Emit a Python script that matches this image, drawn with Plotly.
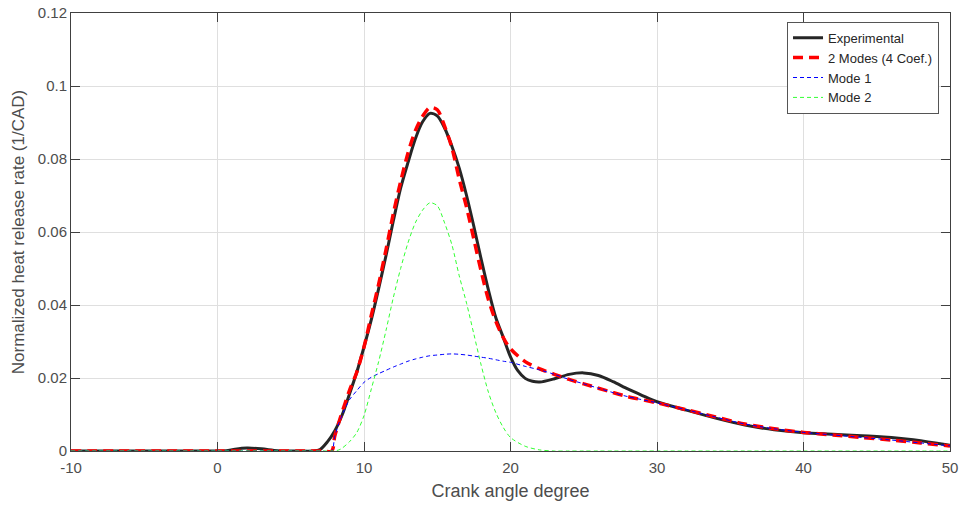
import plotly.graph_objects as go

# ---- data ----
x_exp = [-10, 0, 0.6, 1.2, 2.0, 3.0, 4.1, 5.5, 6.5, 7.0, 7.5, 8.0, 8.5, 9.0, 9.5, 10, 10.5, 11,
         11.5, 12, 12.5, 13, 13.5, 14, 14.5, 15, 15.5, 16, 16.5, 17, 17.5, 18, 18.5, 19,
         19.5, 20, 20.5, 21, 21.5, 22, 23, 24, 25, 26, 27, 28, 29, 30, 32, 34, 36, 38,
         40, 42, 44, 45, 46, 47, 48, 49, 50]
y_exp = [0, 0, 0.0001, 0.0005, 0.0008, 0.0006, 0.0001, 0, 0, 0.0004, 0.0025, 0.0055, 0.0098,
         0.0155, 0.0215, 0.0285, 0.036, 0.0445, 0.0535, 0.063, 0.072, 0.079, 0.0855, 0.0902,
         0.0925, 0.0918, 0.0885, 0.0835, 0.0775, 0.0700, 0.0615, 0.0525, 0.0440, 0.0365,
         0.0312, 0.0258, 0.0220, 0.0199, 0.0191, 0.0189, 0.0198, 0.0210, 0.0214, 0.0207,
         0.0190, 0.0170, 0.0152, 0.0135, 0.0112, 0.0090, 0.0071, 0.0058, 0.0050, 0.0046,
         0.0042, 0.0040, 0.0037, 0.0033, 0.0028, 0.0022, 0.0016]

x_model = [-10, 0, 7.0, 7.8, 8.0, 8.4, 9.0, 9.5, 10, 10.5, 11, 11.5, 12, 12.5, 13, 13.5, 14,
           14.5, 15, 15.5, 16, 16.5, 17, 17.5, 18, 18.5, 19, 19.5, 20, 21, 22, 23, 24, 25,
           26, 27, 28, 30, 32, 34, 36, 38, 40, 42, 44, 46, 48, 50]
y_mode1 = [0, 0, 0, 0, 0.0040, 0.0088, 0.0140, 0.0165, 0.0188, 0.0202, 0.0212, 0.0221, 0.0230,
           0.0238, 0.0246, 0.0252, 0.0257, 0.0261, 0.0263, 0.0265, 0.0266, 0.0265, 0.0263,
           0.0260, 0.0257, 0.0254, 0.0250, 0.0246, 0.0243, 0.0232, 0.0222, 0.0210, 0.0196,
           0.0184, 0.0172, 0.0160, 0.0149, 0.0132, 0.0113, 0.0093, 0.0074, 0.0061, 0.0051,
           0.0044, 0.0037, 0.0030, 0.0022, 0.0014]
y_mode2 = [0, 0, 0, 0, 0, 0.0005, 0.0025, 0.0050, 0.0097, 0.0170, 0.0245, 0.0330, 0.0420,
           0.0500, 0.0570, 0.0625, 0.0660, 0.0680, 0.0672, 0.0625, 0.0565, 0.0480, 0.0405,
           0.0320, 0.0235, 0.0160, 0.0105, 0.0065, 0.0037, 0.0013, 0.0003, 0, 0, 0, 0, 0,
           0, 0, 0, 0, 0, 0, 0, 0, 0, 0, 0, 0]
y_2modes = [0, 0, 0, 0, 0.0040, 0.0093, 0.0165, 0.0215, 0.0285, 0.0372, 0.0457, 0.0551,
            0.0650, 0.0738, 0.0816, 0.0877, 0.0917, 0.0941, 0.0935, 0.0890, 0.0831, 0.0745,
            0.0668, 0.0580, 0.0492, 0.0414, 0.0355, 0.0311, 0.0280, 0.0245, 0.0225, 0.0210,
            0.0196, 0.0184, 0.0172, 0.0160, 0.0149, 0.0132, 0.0113, 0.0093, 0.0074, 0.0061,
            0.0051, 0.0044, 0.0037, 0.0030, 0.0022, 0.0014]

x_ticks = [-10, 0, 10, 20, 30, 40, 50]
x_tick_text = ["-10", "0", "10", "20", "30", "40", "50"]
y_ticks = [0, 0.02, 0.04, 0.06, 0.08, 0.1, 0.12]
y_tick_text = ["0", "0.02", "0.04", "0.06", "0.08", "0.1", "0.12"]

FONT = "Liberation Sans, Arial, Helvetica, sans-serif"
AX = "#404040"
TXT = "#4d4d4d"

fig = go.Figure()
fig.add_trace(go.Scatter(x=x_exp, y=y_exp, mode="lines", name="Experimental",
                         line=dict(color="#262626", width=3, shape="spline", smoothing=0.8)))
fig.add_trace(go.Scatter(x=x_model, y=y_2modes, mode="lines", name="2 Modes (4 Coef.)",
                         line=dict(color="#ff0000", width=3.5, dash="10px,6px",
                                   shape="spline", smoothing=0.8)))
fig.add_trace(go.Scatter(x=x_model, y=y_mode1, mode="lines", name="Mode 1",
                         line=dict(color="#0000ff", width=1, dash="4px,3px",
                                   shape="spline", smoothing=0.8)))
fig.add_trace(go.Scatter(x=x_model, y=y_mode2, mode="lines", name="Mode 2",
                         line=dict(color="#33ff33", width=1, dash="4px,3px",
                                   shape="spline", smoothing=0.8)))

axis_common = dict(showline=True, linecolor=AX, linewidth=1, mirror="ticks",
                   ticks="inside", ticklen=9, tickcolor=AX, tickwidth=1,
                   showgrid=True, gridcolor="#dfdfdf", gridwidth=1, zeroline=False,
                   automargin=False,
                   tickfont=dict(family=FONT, size=15, color=TXT))

fig.update_xaxes(range=[-10, 50], tickvals=x_ticks, ticktext=x_tick_text, ticklabelstandoff=3,
                 title=dict(text="Crank angle degree", font=dict(family=FONT, size=18, color=TXT),
                            standoff=9),
                 **axis_common)
fig.update_yaxes(range=[0, 0.12], tickvals=y_ticks, ticktext=y_tick_text,
                 title=dict(text="Normalized heat release rate (1/CAD)",
                            font=dict(family=FONT, size=17, color=TXT), standoff=8),
                 **axis_common)

fig.update_layout(
    width=960, height=506,
    margin=dict(l=71, r=10, t=13, b=55),
    paper_bgcolor="white", plot_bgcolor="white",
    font=dict(family=FONT, size=13, color="#262626"),
    showlegend=True,
    legend=dict(x=0.9875, y=0.98, xanchor="right", yanchor="top",
                bgcolor="white", bordercolor="#555555", borderwidth=1,
                font=dict(family=FONT, size=13, color="#262626"),
                tracegroupgap=0, itemwidth=30),
)

fig.write_html("out.html")
